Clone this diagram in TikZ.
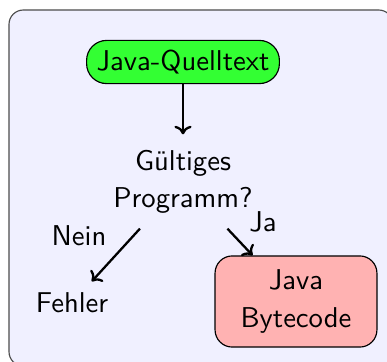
\documentclass[tikz,border=0pt]{standalone}
\usetikzlibrary{arrows.meta}
\begin{document}
\begin{tikzpicture}[x=0.349pt,y=-0.349pt,
  every node/.style={font=\sffamily\fontsize{10}{13}\selectfont, align=center},
  start/.style={draw, fill=green!80, rounded corners=7pt, minimum height=14.7pt, inner xsep=3.5pt},
  decision/.style={minimum height=32.5pt, minimum width=55pt},
  plain/.style={minimum height=14.7pt},
  result/.style={draw, fill=red!30, rounded corners=6pt, minimum width=56.5pt, minimum height=31.8pt},
  conn/.style={thick, -{To[length=3pt,width=6pt]}},
  lbl/.style={inner sep=0pt}]
\clip (0,0) rectangle (387,361);
\draw[fill=blue!6, draw=black!70, rounded corners=5pt] (9,10) rectangle (393,366);
\node[start] (j) at (183,62) {Java-Quelltext};
\node[decision] (g) at (183,181.5) {Gültiges\\Programm?};
\node[plain] (f) at (72,303) {Fehler};
\node[result] (b) at (296,301.5) {Java\\Bytecode};
\draw[conn] (j) -- (g);
\draw[conn] (g) -- (f);
\draw[conn] (g) -- (b);
\node[lbl] (nein) at (79,236) {Nein};
\node[lbl] (ja) at (263,222) {Ja};
\end{tikzpicture}
\end{document}
